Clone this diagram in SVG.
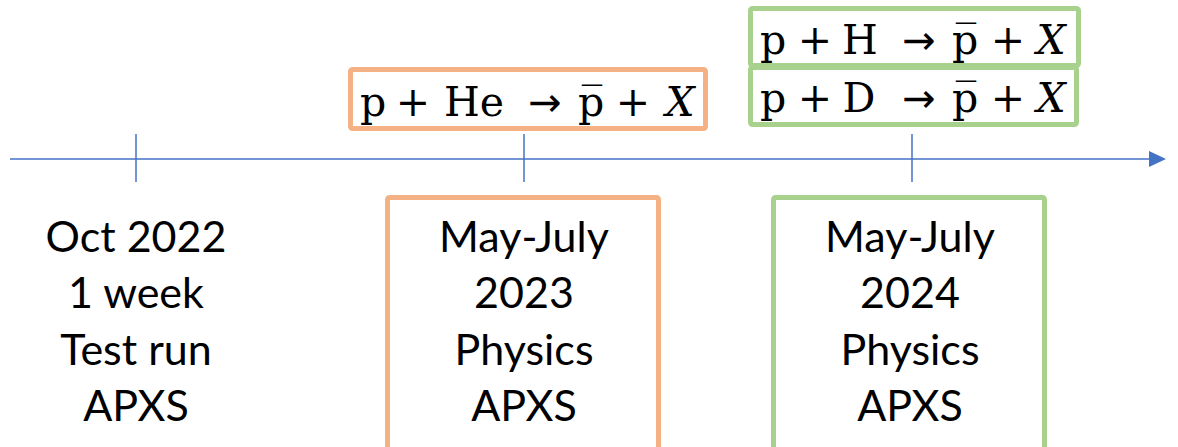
<svg xmlns="http://www.w3.org/2000/svg" width="1178" height="447" viewBox="0 0 1178 447">
<style>
.m{font-family:"DejaVu Serif","Liberation Serif",serif;font-size:41px;fill:#000;text-anchor:middle}
.a{font-family:"DejaVu Sans","Liberation Sans",sans-serif;font-size:40px}
.i{font-style:italic}
.t{font-family:Lato,"Liberation Sans",sans-serif;font-size:43px;fill:#000;text-anchor:middle}
.ob{fill:#fff;stroke:#F4B183;stroke-width:5}
.gb{fill:#fff;stroke:#A9D18E;stroke-width:5}
.ax{stroke:#4472C4;stroke-width:1.5;fill:none}
</style>
<rect width="1178" height="447" fill="#fff"/>
<g id="connectors">
<line class="ax" x1="10" y1="159" x2="1152" y2="159"/>
<polygon points="1149,151 1166,159 1149,167" fill="#4472C4"/>
<line class="ax" x1="136" y1="134" x2="136" y2="182"/>
<line class="ax" x1="524" y1="134" x2="524" y2="182"/>
<line class="ax" x1="912" y1="134" x2="912" y2="182"/>
</g>
<g id="reaction-he">
<rect class="ob" x="350.5" y="69.5" width="355" height="59" rx="2"/>
<text class="m" y="116"><tspan x="373">p</tspan><tspan x="413">+</tspan><tspan x="474">He</tspan><tspan class="a" x="545">→</tspan><tspan x="591">p̅</tspan><tspan x="633">+</tspan><tspan class="i" x="680">X</tspan></text>
</g>
<g id="reaction-h">
<rect class="gb" x="750.5" y="8.5" width="328" height="57" rx="2"/>
<text class="m" y="54"><tspan x="773">p</tspan><tspan x="815">+</tspan><tspan x="860">H</tspan><tspan class="a" x="919">→</tspan><tspan x="965">p̅</tspan><tspan x="1008">+</tspan><tspan class="i" x="1051">X</tspan></text>
</g>
<g id="reaction-d">
<rect class="gb" x="750.5" y="67.5" width="326" height="57" rx="2"/>
<text class="m" y="112"><tspan x="773">p</tspan><tspan x="815">+</tspan><tspan x="859">D</tspan><tspan class="a" x="919">→</tspan><tspan x="965">p̅</tspan><tspan x="1008">+</tspan><tspan class="i" x="1051">X</tspan></text>
</g>
<g id="period-2022">
<text class="t"><tspan x="136" y="252">Oct 2022</tspan><tspan x="136" y="308">1 week</tspan><tspan x="136" y="365">Test run</tspan><tspan x="136" y="421">APXS</tspan></text>
</g>
<g id="period-2023">
<rect class="ob" x="387.5" y="197.5" width="271" height="270" rx="2"/>
<text class="t"><tspan x="524" y="252">May-July</tspan><tspan x="524" y="308">2023</tspan><tspan x="524" y="365">Physics</tspan><tspan x="524" y="421">APXS</tspan></text>
</g>
<g id="period-2024">
<rect class="gb" x="773.5" y="197.5" width="271" height="270" rx="2"/>
<text class="t"><tspan x="910" y="252">May-July</tspan><tspan x="910" y="308">2024</tspan><tspan x="910" y="365">Physics</tspan><tspan x="910" y="421">APXS</tspan></text>
</g>
</svg>
